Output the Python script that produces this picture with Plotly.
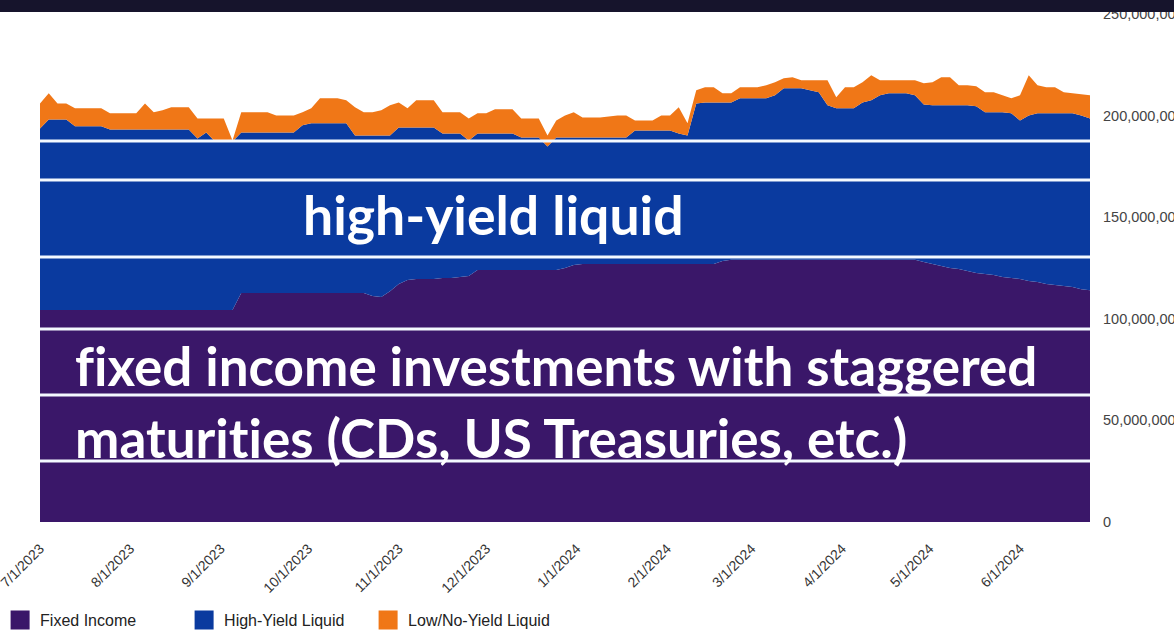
import plotly.graph_objects as go
import pandas as pd

# ---- data (values in millions of dollars, sampled every 3 days) ----
dates = pd.date_range("2023-07-01", periods=121, freq="3D")

fixed_income = [
    104.3, 104.3, 104.3, 104.3, 104.3, 104.3, 104.3, 104.3, 104.3, 104.3,
    104.3, 104.3, 104.3, 104.3, 104.3, 104.3, 104.3, 104.3, 104.3, 104.3,
    104.3, 104.3, 104.3, 112.7, 112.7, 112.7, 112.7, 112.7, 112.7, 112.7,
    112.7, 112.7, 112.7, 112.7, 112.7, 112.7, 112.7, 112.7, 111.2, 110.7,
    113.6, 117.1, 119.1, 119.6, 119.6, 119.6, 120.1, 120.1, 120.6, 121.1,
    124.0, 124.0, 124.0, 124.0, 124.0, 124.0, 124.0, 124.0, 124.0, 124.0,
    125.0, 126.5, 127.0, 127.0, 127.0, 127.0, 127.0, 127.0, 127.0, 127.0,
    127.0, 127.0, 127.0, 127.0, 127.0, 127.0, 127.0, 127.0, 128.5, 129.0,
    129.0, 129.0, 129.0, 129.0, 129.0, 129.0, 129.0, 129.0, 129.0, 129.0,
    129.0, 129.0, 129.0, 129.0, 129.0, 129.0, 129.0, 129.0, 129.0, 129.0,
    129.0, 128.0, 127.0, 126.0, 125.0, 124.5, 123.5, 122.5, 122.0, 121.5,
    120.6, 120.1, 119.6, 118.6, 118.1, 117.1, 116.6, 116.1, 115.6, 114.6,
    114.1,
]

high_yield_liquid = [
    89.4, 93.8, 93.8, 93.8, 90.4, 90.4, 90.4, 90.4, 88.9, 88.9,
    88.9, 88.9, 88.9, 88.9, 88.9, 88.9, 88.9, 88.9, 84.4, 87.4,
    83.0, 83.0, 83.0, 79.0, 79.0, 79.0, 79.0, 79.0, 79.0, 79.0,
    82.5, 83.5, 83.5, 83.5, 83.5, 83.5, 77.5, 77.5, 79.0, 79.5,
    76.6, 77.1, 75.1, 74.6, 74.6, 74.6, 71.1, 71.1, 70.6, 66.7,
    67.2, 67.2, 67.2, 67.2, 67.2, 65.2, 65.2, 65.2, 60.8, 65.2,
    64.2, 62.7, 62.2, 62.2, 62.2, 62.2, 62.2, 62.2, 65.7, 65.7,
    65.7, 65.7, 65.7, 64.2, 63.2, 79.0, 79.5, 79.5, 78.0, 77.5,
    79.5, 79.5, 79.5, 79.5, 81.0, 84.5, 84.5, 84.5, 83.5, 82.5,
    76.1, 74.6, 74.6, 74.6, 77.5, 78.5, 81.0, 82.0, 82.0, 82.0,
    81.0, 77.5, 78.1, 79.1, 80.1, 80.6, 81.6, 82.1, 79.6, 80.1,
    81.0, 81.0, 78.0, 81.5, 83.0, 84.0, 84.5, 85.0, 85.5, 85.5,
    84.5,
]

low_no_yield_liquid = [
    12.3, 12.9, 7.9, 7.9, 8.9, 8.9, 8.9, 8.9, 7.9, 7.9,
    7.9, 7.9, 12.8, 8.4, 9.4, 10.9, 10.9, 10.9, 9.9, 6.9,
    11.3, 11.3, 0.5, 9.9, 9.9, 9.9, 9.9, 8.4, 8.4, 8.4,
    6.4, 7.4, 12.3, 12.3, 12.3, 11.3, 13.9, 11.4, 11.4, 12.4,
    14.9, 12.3, 9.4, 13.3, 13.3, 13.3, 10.4, 10.4, 10.4, 10.8,
    9.9, 9.9, 11.9, 11.9, 11.9, 9.4, 9.4, 9.4, 5.4, 8.4,
    10.9, 12.4, 9.9, 9.9, 9.9, 10.4, 10.9, 10.9, 4.9, 4.9,
    4.9, 7.4, 7.4, 12.9, 6.0, 6.5, 7.4, 7.4, 4.5, 4.5,
    5.4, 5.4, 5.4, 6.4, 6.4, 4.9, 5.4, 3.9, 4.9, 5.9,
    12.3, 5.4, 10.3, 10.3, 9.9, 12.4, 7.4, 6.4, 6.4, 6.4,
    7.4, 10.4, 11.3, 13.8, 13.8, 9.8, 9.8, 9.8, 9.9, 9.9,
    8.4, 7.4, 12.4, 19.8, 13.8, 12.8, 12.8, 10.4, 9.9, 10.4,
    11.4,
]

series_names = ["Fixed Income", "High-Yield Liquid", "Low/No-Yield Liquid"]
series_colors = ["#3a1769", "#0a3a9f", "#f07717"]

month_ticks = ["2023-07-01", "2023-08-01", "2023-09-01", "2023-10-01", "2023-11-01",
               "2023-12-01", "2024-01-01", "2024-02-01", "2024-03-01", "2024-04-01",
               "2024-05-01", "2024-06-01"]
month_labels = ["7/1/2023", "8/1/2023", "9/1/2023", "10/1/2023", "11/1/2023",
                "12/1/2023", "1/1/2024", "2/1/2024", "3/1/2024", "4/1/2024",
                "5/1/2024", "6/1/2024"]

y_tickvals = [0, 50e6, 100e6, 150e6, 200e6, 250e6]
y_ticktext = ["0", "50,000,000", "100,000,000", "150,000,000", "200,000,000", "250,000,000"]

# white horizontal bands drawn over the chart in the slide (values in millions)
overlay_line_levels = [30.0, 62.5, 95.0, 130.4, 168.3, 187.5]

ZWNJ = "\u200c"  # keeps f-i / t-i as separate letters (no ligature)
label_hy = "high-yield liquid"
label_fi_1 = "f" + ZWNJ + "ixed income investments with staggered"
label_fi_2 = "maturit" + ZWNJ + "ies (CDs, US Treasuries, etc.)"

# ---- figure ----
fig = go.Figure()
for name, vals, col in zip(series_names,
                           [fixed_income, high_yield_liquid, low_no_yield_liquid],
                           series_colors):
    fig.add_trace(go.Scatter(
        x=dates, y=[v * 1e6 for v in vals], name=name,
        stackgroup="one", mode="lines", line=dict(width=0, color=col),
        fillcolor=col, showlegend=False, hoverinfo="x+y+name"))

# legend entries (square swatches)
for name, col in zip(series_names, series_colors):
    fig.add_trace(go.Scatter(
        x=[None], y=[None], mode="markers", name=name,
        marker=dict(symbol="square", size=16, color=col, line=dict(color=col, width=3)),
        showlegend=True))

shapes = []
for lv in overlay_line_levels:
    shapes.append(dict(type="line", xref="paper", x0=0, x1=1, yref="y",
                       y0=lv * 1e6, y1=lv * 1e6, layer="above",
                       line=dict(color="#f4f9ff", width=3)))
# dark band at the top of the slide
shapes.append(dict(type="rect", xref="paper", yref="paper", x0=-0.05, x1=1.1,
                   y0=1.004, y1=1.04, fillcolor="#16142c", line=dict(width=0),
                   layer="above"))

annots = [
    dict(text="<b>" + label_hy + "</b>", xref="paper", yref="paper", x=0.432, y=0.606,
         xanchor="center", yanchor="middle", showarrow=False,
         font=dict(family="Lato", size=53.5, color="white")),
    dict(text="<b>" + label_fi_1 + "</b>", xref="paper", yref="paper", x=0.031, y=0.309,
         xanchor="left", yanchor="middle", showarrow=False,
         font=dict(family="Lato", size=53, color="white")),
    dict(text="<b>" + label_fi_2 + "</b>", xref="paper", yref="paper", x=0.031, y=0.167,
         xanchor="left", yanchor="middle", showarrow=False,
         font=dict(family="Lato", size=53, color="white")),
]

fig.update_layout(
    width=1174, height=631,
    margin=dict(l=40, r=84, t=14, b=109, autoexpand=False),
    paper_bgcolor="white", plot_bgcolor="white",
    font=dict(family="Liberation Sans, Arial, sans-serif", color="#333333"),
    shapes=shapes, annotations=annots,
    showlegend=True,
    legend=dict(orientation="h", x=-0.038, xanchor="left", y=-0.193, yanchor="middle",
                traceorder="normal",
                font=dict(size=16, color="#222222"), entrywidth=139,
                itemclick=False, bgcolor="rgba(0,0,0,0)"),
    xaxis=dict(type="date", range=["2023-07-01", "2024-06-25"],
               tickvals=month_ticks, ticktext=month_labels, tickangle=-45,
               showgrid=False, zeroline=False, showline=False,
               ticks="outside", ticklen=12, tickcolor="rgba(0,0,0,0)",
               ticklabeloverflow="allow",
               tickfont=dict(size=14, color="#333333"), automargin=False),
    yaxis=dict(side="right", range=[0, 250e6], tickvals=y_tickvals, ticktext=y_ticktext,
               showgrid=False, zeroline=False, showline=False, ticks="",
               ticklabelstandoff=12, ticklabeloverflow="allow",
               tickfont=dict(size=14.5, color="#444444"),
               automargin=False),
)

fig.write_html("out.html")
